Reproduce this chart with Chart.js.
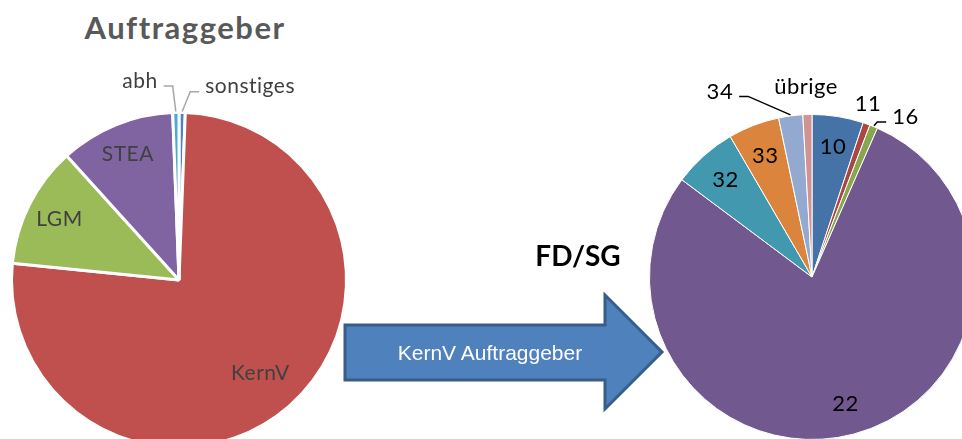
<!DOCTYPE html>
<html>
<head>
<meta charset="utf-8">
<script src="https://cdn.jsdelivr.net/npm/chart.js@4.4.0/dist/chart.umd.min.js"></script>
<style>
  body { margin: 0; width: 962px; height: 439px; overflow: hidden; position: relative; background: #fff; }
  canvas { position: absolute; top: 0; }
  #leftPie { left: 0; }
  #rightPie { left: 560px; }
  .title { position: absolute; font-family: Lato, sans-serif; font-weight: bold; white-space: nowrap; }
  #mainTitle { left: 2px; width: 366px; top: 8px; text-align: center; font-size: 31px; line-height: 38px; letter-spacing: 1.5px; color: #595959; }
  #subTitle { left: 520px; width: 116px; top: 237px; text-align: center; font-size: 28px; line-height: 36px; color: #000; }
  #arrow { position: absolute; left: 0; top: 0; }
  #arrowText { position: absolute; left: 345px; width: 290px; top: 340px; text-align: center; font-family: "Liberation Sans", Arial, sans-serif; font-size: 21px; line-height: 26px; color: #fff; }
</style>
</head>
<body>
<div id="mainTitle" class="title">Auftraggeber</div>
<canvas id="leftPie" width="480" height="460"></canvas>
<svg id="arrow" width="962" height="439">
  <polygon points="345,325 605,325 605,295 662,352 605,409 605,380 345,380" fill="#4F81BD" stroke="#385D8A" stroke-width="3"/>
</svg>
<div id="arrowText">KernV Auftraggeber</div>
<div id="subTitle" class="title">FD/SG</div>
<canvas id="rightPie" width="440" height="460"></canvas>
<script>
const leftLabels = ['sonstiges', 'KernV', 'LGM', 'STEA', 'abh'];
const leftValues = [0.6, 76.0, 11.7, 11.1, 0.6];
const leftColors = ['#4F81BD', '#C0504D', '#9BBB59', '#8064A2', '#4BACC6'];

const rightLabels = ['10', '11', '16', '22', '32', '33', '34', 'übrige'];
const rightValues = [5.1, 0.7, 0.8, 78.7, 6.4, 5.1, 2.4, 0.9];
const rightColors = ['#4572A7', '#AA4643', '#89A54E', '#71588F', '#4198AF', '#DB843D', '#93A9CF', '#D19392'];

// label placement: r = share of radius, a = angle from top (deg), leader = side of the text the line leaves from
const leftPlace = [
  { a: 20.2, r: 1.23, leader: -1 },
  { r: 0.74 },
  { r: 0.8 },
  { r: 0.81 },
  { a: 348.9, r: 1.21, leader: 1 }
];
const rightPlace = [
  { r: 0.81 },
  { a: 17.9, r: 1.12 },
  { a: 30.3, r: 1.14, leader: -1 },
  { r: 0.81 },
  { r: 0.8 },
  { r: 0.8 },
  { a: 333.6, r: 1.275, leader: 1 },
  { a: 358.2, r: 1.17 }
];

const sliceLabels = {
  id: 'sliceLabels',
  afterDatasetsDraw(chart, args, opts) {
    const ctx = chart.ctx;
    const arcs = chart.getDatasetMeta(0).data;
    ctx.save();
    ctx.font = opts.font;
    ctx.letterSpacing = opts.spacing;
    ctx.fillStyle = opts.color;
    ctx.strokeStyle = opts.lineColor;
    ctx.lineWidth = 1.5;
    ctx.textAlign = 'center';
    ctx.textBaseline = 'middle';
    arcs.forEach(function (arc, i) {
      const p = opts.place[i];
      const label = chart.data.labels[i];
      const a = arc.getProps(['x', 'y', 'startAngle', 'endAngle', 'outerRadius'], true);
      const mid = (a.startAngle + a.endAngle) / 2;
      const ang = p.a !== undefined ? (p.a - 90) * Math.PI / 180 : mid;
      const lx = a.x + Math.cos(ang) * a.outerRadius * p.r;
      const ly = a.y + Math.sin(ang) * a.outerRadius * p.r;
      ctx.fillText(label, lx, ly);
      if (p.leader) {
        const w = ctx.measureText(label).width;
        const sx = lx + p.leader * (w / 2 + 6);
        const sy = ly + 5;
        ctx.beginPath();
        ctx.moveTo(sx, sy);
        ctx.lineTo(sx + p.leader * 9, sy);
        ctx.lineTo(a.x + Math.cos(mid) * (a.outerRadius + 1), a.y + Math.sin(mid) * (a.outerRadius + 1));
        ctx.stroke();
      }
    });
    ctx.restore();
  }
};

function makePie(id, labels, values, colors, border, padding, labelOpts) {
  new Chart(document.getElementById(id).getContext('2d'), {
    type: 'pie',
    data: {
      labels: labels,
      datasets: [{
        data: values,
        backgroundColor: colors,
        borderColor: '#ffffff',
        borderWidth: border
      }]
    },
    options: {
      responsive: false,
      animation: false,
      layout: { padding: padding },
      plugins: {
        legend: { display: false },
        tooltip: { enabled: false },
        sliceLabels: labelOpts
      }
    },
    plugins: [sliceLabels]
  });
}

makePie('leftPie', leftLabels, leftValues, leftColors, 3,
  { left: 10, top: 111, right: 132, bottom: 11 },
  { font: '21px Lato', spacing: '0.5px', color: '#404040', lineColor: '#A6A6A6', place: leftPlace });

makePie('rightPie', rightLabels, rightValues, rightColors, 1,
  { left: 89, top: 114, right: 25, bottom: 20 },
  { font: '22px Lato', spacing: '0.5px', color: '#000000', lineColor: '#000000', place: rightPlace });
</script>
</body>
</html>
